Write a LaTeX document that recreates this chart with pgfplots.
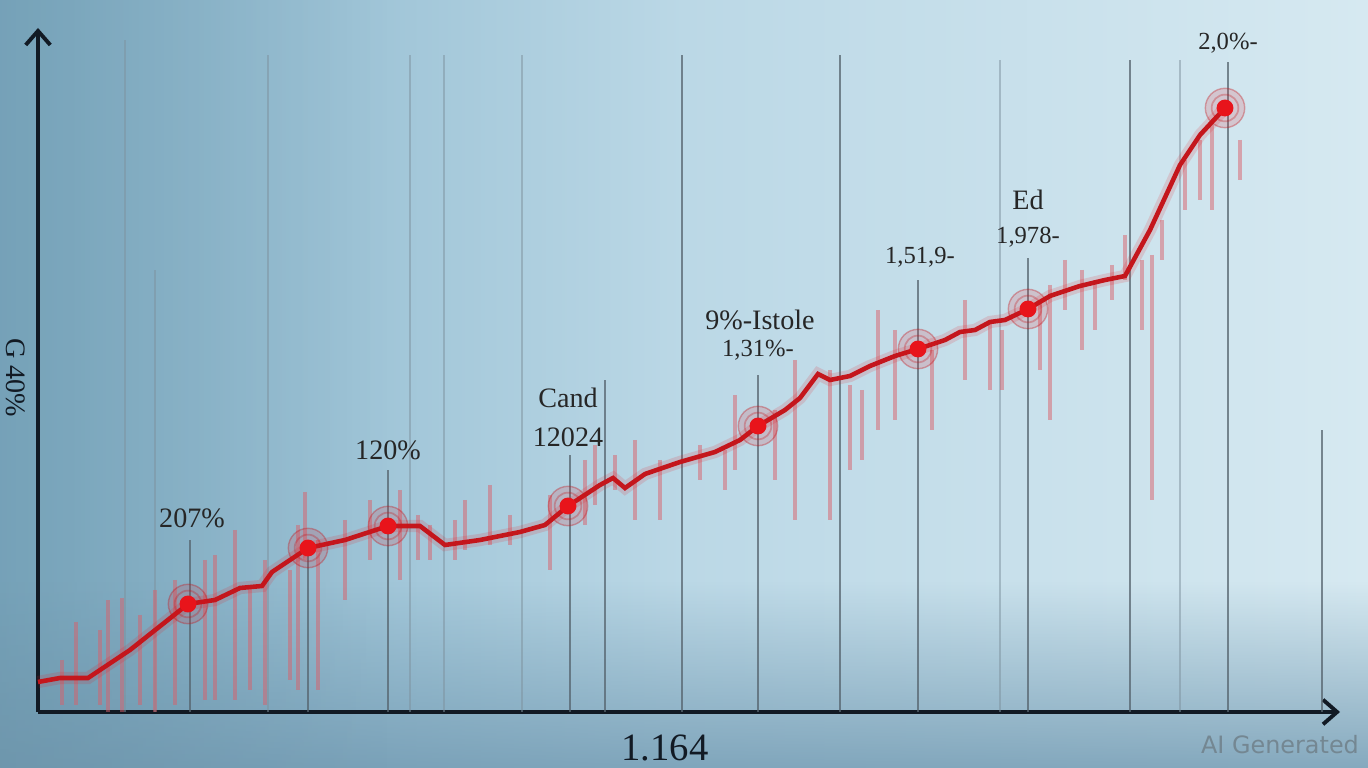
\documentclass[border=0pt]{standalone}
\usepackage{pgfplots}
\pgfplotsset{compat=1.18}
\usepackage{fontspec}
\setmainfont{Liberation Serif}
\newfontfamily\wmfont{DejaVu Sans}
\usetikzlibrary{arrows.meta,fadings}

\definecolor{bgleft}{HTML}{7FAEC6}
\definecolor{bgmid}{HTML}{BBD8E6}
\definecolor{bgright}{HTML}{D6E9F1}
\definecolor{bgbottom}{HTML}{7199B1}
\definecolor{linered}{HTML}{C4161C}
\definecolor{dotred}{HTML}{E8141B}
\definecolor{spike}{HTML}{D9606A}
\definecolor{gridgrey}{HTML}{56646E}
\definecolor{axisdark}{HTML}{121A24}

\begin{document}
\begin{tikzpicture}
% page background (1 px = 0.01 cm, axis origin at px 38,712)
\shade[left color=bgleft, right color=bgright, middle color=bgmid]
  (-0.38cm,-0.56cm) rectangle (13.30cm,7.12cm);
\fill[bgbottom, path fading=north, opacity=0.8]
  (-0.38cm,-0.56cm) rectangle (13.30cm,1.3cm);
\fill[bgleft!80!black, path fading=east, opacity=0.35]
  (-0.38cm,-0.56cm) rectangle (3.5cm,7.12cm);

\begin{axis}[
    scale only axis,
    width=13.02cm,
    height=6.84cm,
    xmin=38, xmax=1340,
    ymin=0, ymax=684,
    axis lines=left,
    axis line style={line width=1.1pt, color=axisdark,
      -{Straight Barb[length=4pt,width=7pt,line width=1.1pt]}},
    xtick=\empty, ytick=\empty,
    clip=false,
    unbounded coords=jump,
]
    % faint background grid lines
    \addplot[gridgrey!60!bgmid, line width=0.5pt, opacity=0.5] coordinates {
      (125,0) (125,672) (125,nan)
      (155,0) (155,442) (155,nan)
      (268,0) (268,657) (268,nan)
      (410,0) (410,657) (410,nan)
      (444,0) (444,657) (444,nan)
      (522,0) (522,657) (522,nan)
      (1000,0) (1000,652) (1000,nan)
      (1180,0) (1180,652) (1180,nan)
    };
    % darker vertical lines
    \addplot[gridgrey, line width=0.6pt, opacity=0.75] coordinates {
      (190,0) (190,172) (190,nan)
      (308,0) (308,157) (308,nan)
      (388,0) (388,242) (388,nan)
      (570,0) (570,257) (570,nan)
      (605,0) (605,332) (605,nan)
      (682,0) (682,657) (682,nan)
      (758,0) (758,337) (758,nan)
      (840,0) (840,657) (840,nan)
      (918,0) (918,432) (918,nan)
      (1028,0) (1028,454) (1028,nan)
      (1130,0) (1130,652) (1130,nan)
      (1228,0) (1228,650) (1228,nan)
      (1322,0) (1322,282) (1322,nan)
    };
    % red spikes
    \addplot[spike, line width=0.9pt, opacity=0.5] coordinates {
      (62,52) (62,7) (62,nan)
      (76,90) (76,7) (76,nan)
      (100,82) (100,7) (100,nan)
      (108,112) (108,0) (108,nan)
      (122,114) (122,0) (122,nan)
      (140,97) (140,7) (140,nan)
      (155,122) (155,0) (155,nan)
      (175,132) (175,7) (175,nan)
      (205,152) (205,12) (205,nan)
      (215,157) (215,12) (215,nan)
      (235,182) (235,12) (235,nan)
      (250,127) (250,22) (250,nan)
      (265,152) (265,7) (265,nan)
      (290,142) (290,32) (290,nan)
      (298,187) (298,22) (298,nan)
      (305,220) (305,152) (305,nan)
      (318,172) (318,22) (318,nan)
      (345,192) (345,112) (345,nan)
      (370,212) (370,152) (370,nan)
      (400,222) (400,132) (400,nan)
      (418,197) (418,152) (418,nan)
      (430,187) (430,152) (430,nan)
      (455,192) (455,152) (455,nan)
      (465,212) (465,162) (465,nan)
      (490,227) (490,167) (490,nan)
      (510,197) (510,167) (510,nan)
      (550,217) (550,142) (550,nan)
      (585,252) (585,187) (585,nan)
      (595,267) (595,207) (595,nan)
      (615,257) (615,222) (615,nan)
      (635,272) (635,192) (635,nan)
      (660,252) (660,192) (660,nan)
      (700,267) (700,232) (700,nan)
      (725,262) (725,222) (725,nan)
      (735,317) (735,242) (735,nan)
      (775,302) (775,232) (775,nan)
      (795,352) (795,192) (795,nan)
      (830,342) (830,192) (830,nan)
      (850,327) (850,242) (850,nan)
      (862,322) (862,252) (862,nan)
      (878,402) (878,282) (878,nan)
      (895,382) (895,292) (895,nan)
      (932,362) (932,282) (932,nan)
      (965,412) (965,332) (965,nan)
      (990,392) (990,322) (990,nan)
      (1002,382) (1002,322) (1002,nan)
      (1040,412) (1040,342) (1040,nan)
      (1050,427) (1050,292) (1050,nan)
      (1065,452) (1065,402) (1065,nan)
      (1082,442) (1082,362) (1082,nan)
      (1095,432) (1095,382) (1095,nan)
      (1112,447) (1112,412) (1112,nan)
      (1125,477) (1125,432) (1125,nan)
      (1142,452) (1142,382) (1142,nan)
      (1152,457) (1152,212) (1152,nan)
      (1162,492) (1162,452) (1162,nan)
      (1185,552) (1185,502) (1185,nan)
      (1200,572) (1200,512) (1200,nan)
      (1212,587) (1212,502) (1212,nan)
      (1240,572) (1240,532) (1240,nan)
    };

    % main line (glow + line)
    \addplot[dotred, line width=3.5pt, opacity=0.15] coordinates {
      (38,30) (60,34) (88,34) (130,62) (188,108) (215,112) (240,124) (262,126)
      (272,140) (308,164) (345,172) (388,186) (420,186) (445,167) (480,172)
      (520,180) (545,187) (568,206) (600,227) (613,234) (625,224) (645,238)
      (680,250) (715,260) (740,272) (758,286) (785,302) (800,314) (818,338)
      (830,332) (850,336) (870,346) (895,356) (918,363) (945,372) (960,380)
      (975,382) (990,390) (1005,392) (1028,403) (1050,416) (1080,426)
      (1105,432) (1125,436) (1150,482) (1180,547) (1200,577) (1225,604)
    };
    \addplot[linered, line width=1.3pt] coordinates {
      (38,30) (60,34) (88,34) (130,62) (188,108) (215,112) (240,124) (262,126)
      (272,140) (308,164) (345,172) (388,186) (420,186) (445,167) (480,172)
      (520,180) (545,187) (568,206) (600,227) (613,234) (625,224) (645,238)
      (680,250) (715,260) (740,272) (758,286) (785,302) (800,314) (818,338)
      (830,332) (850,336) (870,346) (895,356) (918,363) (945,372) (960,380)
      (975,382) (990,390) (1005,392) (1028,403) (1050,416) (1080,426)
      (1105,432) (1125,436) (1150,482) (1180,547) (1200,577) (1225,604)
    };

    % highlighted points: halo + dot
    \addplot[only marks, mark=*, mark size=5.6pt,
      mark options={fill=dotred, fill opacity=0.15, draw=linered, draw opacity=0.35, line width=0.4pt}]
      coordinates {(188,108) (308,164) (388,186) (568,206) (758,286) (918,363) (1028,403) (1225,604)};
    \addplot[only marks, mark=o, mark size=3.8pt,
      mark options={draw=linered, draw opacity=0.3, line width=0.5pt}]
      coordinates {(188,108) (308,164) (388,186) (568,206) (758,286) (918,363) (1028,403) (1225,604)};
    \addplot[only marks, mark=*, mark size=2.2pt,
      mark options={fill=dotred, draw=dotred}]
      coordinates {(188,108) (308,164) (388,186) (568,206) (758,286) (918,363) (1028,403) (1225,604)};

    % labels
    \begin{scope}[every node/.style={text=black!85, font=\fontsize{8}{9}\selectfont, inner sep=0pt}]
    \node at (axis cs:192,194) {207\%};
    \node at (axis cs:388,262) {120\%};
    \node at (axis cs:568,314) {Cand};
    \node at (axis cs:568,275) {12024};
    \node at (axis cs:760,392) {9\%-Istole};
    \node[font=\fontsize{7}{8}\selectfont] at (axis cs:758,362) {1,31\%-};
    \node[font=\fontsize{7}{8}\selectfont] at (axis cs:920,455) {1,51,9-};
    \node at (axis cs:1028,512) {Ed};
    \node[font=\fontsize{7}{8}\selectfont] at (axis cs:1028,475) {1,978-};
    \node[font=\fontsize{7}{8}\selectfont] at (axis cs:1228,669) {2,0\%-};
    \end{scope}
    \node[font=\fontsize{11}{12}\selectfont, text=axisdark] at (axis cs:665,-36) {1.164};
    \node[font=\fontsize{8}{9}\selectfont, text=axisdark, rotate=-90, inner sep=0pt] at (axis cs:16,334) {G 40\%};
    \node[font=\wmfont\fontsize{6.8}{8}\selectfont, text=gridgrey!70!bgmid] at (axis cs:1280,-33) {AI Generated};
\end{axis}
\pgfresetboundingbox
\path[use as bounding box] (-0.38cm,-0.56cm) rectangle (13.30cm,7.12cm);
\end{tikzpicture}
\end{document}
